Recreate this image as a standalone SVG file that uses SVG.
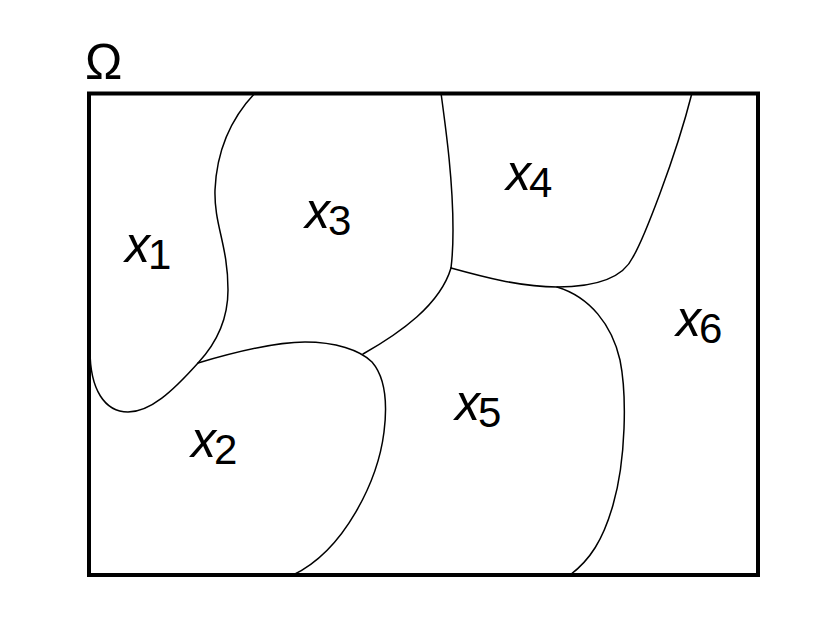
<svg xmlns="http://www.w3.org/2000/svg" width="837" height="633" viewBox="0 0 837 633">
<style>
.lbl{font-family:"Liberation Sans",Arial,Helvetica,sans-serif;fill:#000}
.v{font-style:italic;font-size:50px}
.s{font-size:42px}
.b{fill:none;stroke:#000;stroke-width:1.5;stroke-linejoin:round;stroke-linecap:round}
</style>
<rect width="837" height="633" fill="#fff"/>
<g id="domain">
<rect x="89" y="93.5" width="669" height="481.5" fill="none" stroke="#000" stroke-width="4"/>
<text x="85" y="79" font-family="Liberation Sans,Arial,sans-serif" font-size="50">Ω</text>
</g>
<g id="boundaries">
<path class="b" d="M255,93 C238,111 217,142 215,190 C214,225 228,245 228,290 C228,325 212,348 198,363 C172,392 150,412 128,412 C105,412 90,390 90,350"/>
<path class="b" d="M198,363 C235,352 275,342 305,342 C335,342 360,350 372,362 C385,377 388,400 384,432 C378,480 345,550 293,575"/>
<path class="b" d="M363,354 C400,333 440,305 451,268"/>
<path class="b" d="M441,93 C446,130 453,180 453,230 C453,250 452,260 451,268"/>
<path class="b" d="M451,268 C480,276 520,287 557,287 C590,287 622,280 633,257 C643,240 675,160 692,93"/>
<path class="b" d="M557,287 C590,297 612,325 620,360 C627,395 626,460 613,505 C603,540 590,560 570,575"/>
</g>
<g id="x1"><text class="lbl" x="125" y="262"><tspan class="v">x</tspan><tspan class="s" dx="-2" dy="7">1</tspan></text></g>
<g id="x2"><text class="lbl" x="191" y="457"><tspan class="v">x</tspan><tspan class="s" dx="-2" dy="7">2</tspan></text></g>
<g id="x3"><text class="lbl" x="305" y="228"><tspan class="v">x</tspan><tspan class="s" dx="-2" dy="7">3</tspan></text></g>
<g id="x4"><text class="lbl" x="506" y="190"><tspan class="v">x</tspan><tspan class="s" dx="-2" dy="7">4</tspan></text></g>
<g id="x5"><text class="lbl" x="455" y="420"><tspan class="v">x</tspan><tspan class="s" dx="-2" dy="7">5</tspan></text></g>
<g id="x6"><text class="lbl" x="676" y="336"><tspan class="v">x</tspan><tspan class="s" dx="-2" dy="7">6</tspan></text></g>
</svg>
